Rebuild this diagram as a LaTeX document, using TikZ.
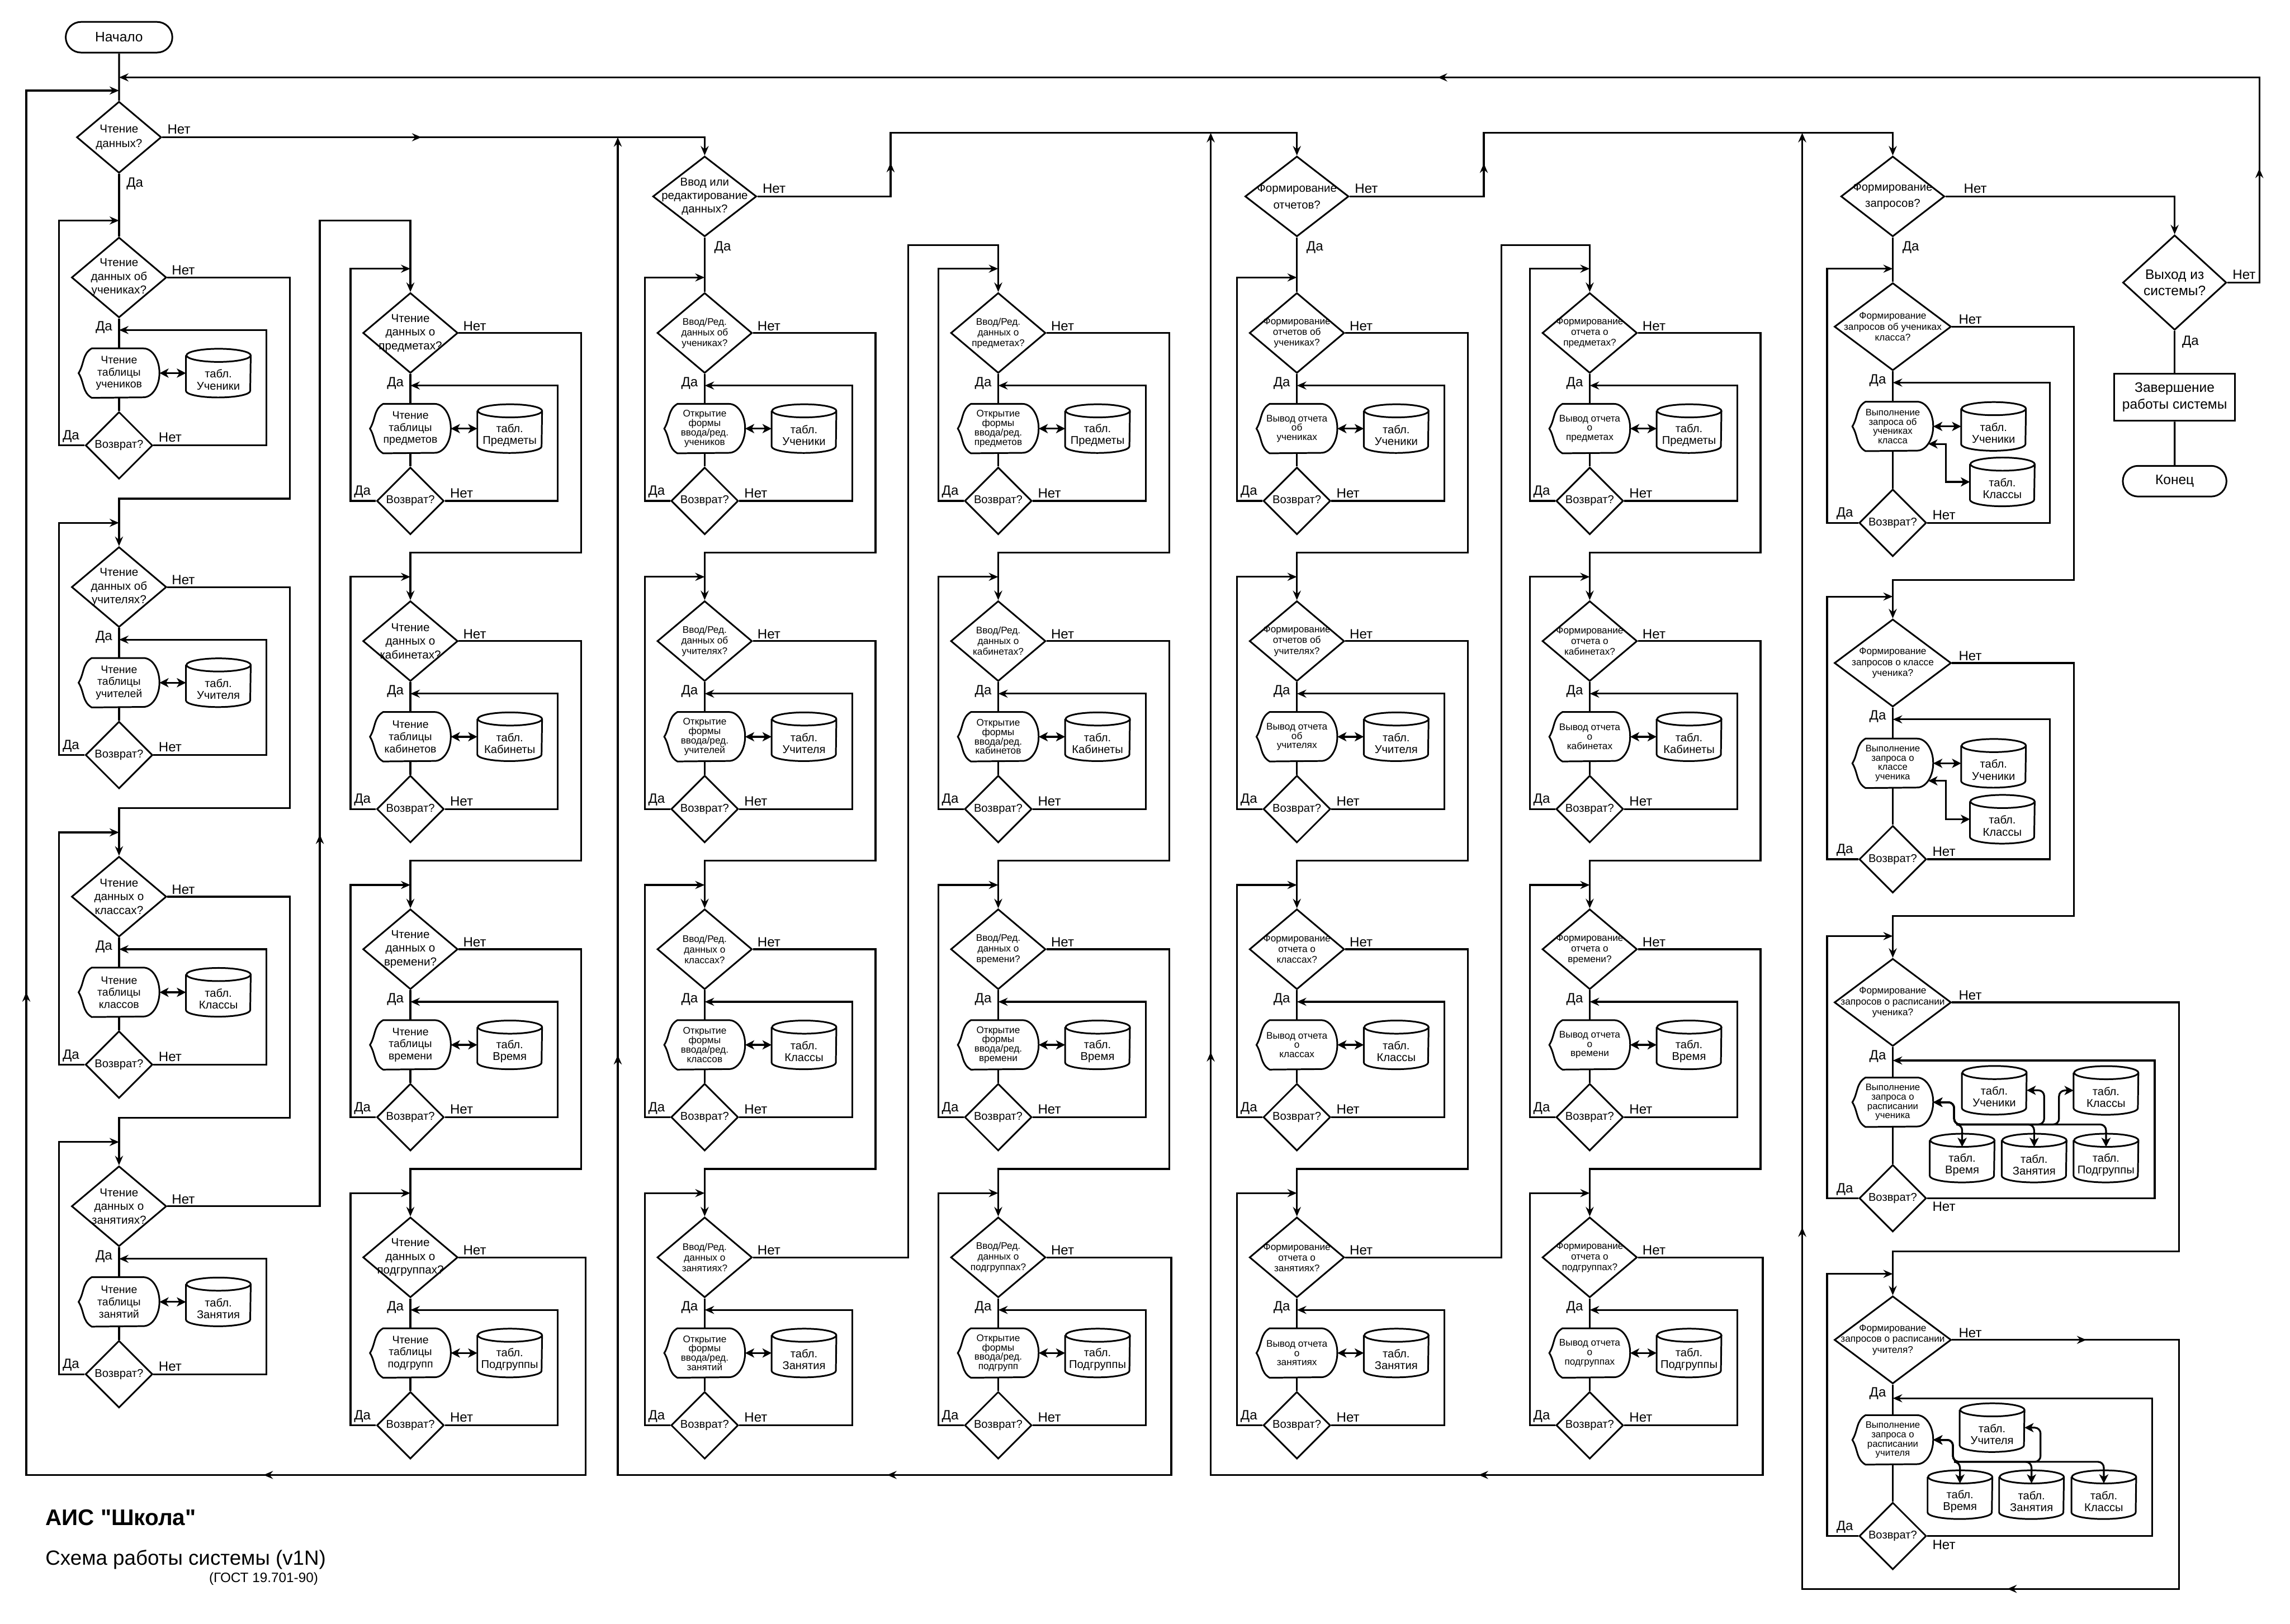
\documentclass[tikz,border=0pt]{standalone}
\usepackage{fontspec}
\setmainfont{Liberation Sans}
\newfontfamily\capfont{Liberation Sans}
\usetikzlibrary{shapes.geometric,shapes.misc,arrows.meta,calc,decorations.markings}

\newlength{\px}
\setlength{\px}{0.4mm}
\newcommand{\setfs}[2]{\fontsize{#1}{#2}\selectfont}

\tikzset{
  conn/.style={line width=1.4pt},
  arr/.style={conn, -{Stealth[length=2.6mm,width=2.2mm,inset=0.9mm]}},
  dbl/.style={conn, {Stealth[length=2.5mm,width=2.5mm,inset=0.7mm]}-{Stealth[length=2.5mm,width=2.5mm,inset=0.7mm]}},
  rc/.style={rounded corners=1.6mm},
  midarr/.style={postaction={decorate, decoration={markings, mark=at position #1 with {\arrow{Stealth[length=2.6mm,width=2.2mm,inset=0.9mm]}}}}},
  outl/.style={draw, line width=1.3pt},
  shp/.style={outl, fill=white},
  term/.style={shp, rounded rectangle, minimum width=73*\px, minimum height=21*\px, inner sep=0pt, font=\setfs{10.7}{12.8}},
  ask/.style={shp, diamond, minimum width=65*\px, minimum height=55*\px, inner sep=0pt},
  askG/.style={minimum width=80*\px, minimum height=60*\px},
  asktop/.style={minimum width=71*\px, minimum height=55*\px},
  ret/.style={shp, diamond, minimum width=46*\px, minimum height=46*\px, inner sep=0pt, label={[rettext]center:Возврат?}},
  rettext/.style={inner sep=0pt, font=\setfs{8.8}{10}},
  toptext/.style={align=center, inner sep=0pt, font=\setfs{8.9}{12.8}},
  asktext/.style={align=center, inner sep=0pt, font=\setfs{9}{10.7}},
  proctext/.style={font=\setfs{8.5}{9.4}},
  tbltext/.style={align=center, inner sep=0pt, yshift=-1.8mm, font=\setfs{8.8}{9.2}},
  lbl/.style={inner sep=0.5pt, font=\setfs{10.5}{12}},
  proc/.style={minimum width=55*\px, minimum height=33.5*\px, inner sep=0pt, align=center,
    append after command={\pgfextra{\draw[outl] ([xshift=9*\px]\tikzlastnode.north west)
      -- ([xshift=-11*\px]\tikzlastnode.north east)
      arc[start angle=90, end angle=-90, x radius=11*\px, y radius=16.75*\px]
      -- ([xshift=9*\px]\tikzlastnode.south west) to[out=150, in=-58] (\tikzlastnode.west)
      to[out=58, in=210] ([xshift=9*\px]\tikzlastnode.north west) -- cycle;}}},
  tbl/.style={minimum width=44*\px, minimum height=33*\px, inner sep=0pt,
    append after command={\pgfextra{\draw[outl] ([yshift=-4.5*\px]\tikzlastnode.north west)
      -- ([yshift=4.5*\px]\tikzlastnode.south west)
      arc[start angle=180, end angle=360, x radius=22*\px, y radius=4.5*\px]
      -- ([yshift=-4.5*\px]\tikzlastnode.north east)
      arc[start angle=0, end angle=360, x radius=22*\px, y radius=4.5*\px];}}}
}

% one block: question, action with its table, and the return question
\newcommand{\subblk}[7]{%
  \node[ask, label={[asktext]center:{#5}}] (q#1) at (#2,-#3) {};
  \node[proc, proctext] (p#1) at (#2,-#3-65.5) {#6};
  \node[tbl, label={[tbltext]center:{табл.\\#7}}] (t#1) at (#2+68,-#3-65.5) {};
  \node[ret] (r#1) at (#2,-#3-115) {};
  \coordinate (in#1) at (#2,-#3+#4);
  \coordinate (rp#1) at (#2,-#3-36);
  \draw[conn] (q#1) -- (p#1);
  \draw[conn] (p#1) -- (r#1);
  \draw[dbl] (p#1) -- (t#1);
  \draw[arr] (r#1.west) -| ($(in#1)+(-41,0)$) -- (in#1);
  \draw[arr] (r#1.east) -| ($(rp#1)+(101,0)$) -- (rp#1);
  \node[lbl, anchor=north east] (yq#1) at ($(q#1.south)+(-4,-1.5)$) {Да};
  \node[lbl, anchor=south west] (nq#1) at ($(q#1.east)+(2.5,1)$) {Нет};
  \node[lbl, anchor=south east] (yr#1) at ($(r#1.west)+(-3,1.5)$) {Да};
  \node[lbl, anchor=south west] (nr#1) at ($(r#1.east)+(3,1.5)$) {Нет};
}

\begin{document}
\begin{tikzpicture}[x=0.4mm, y=0.4mm]
  \useasboundingbox (0,0) rectangle (1568,-1112);

  % main questions
  \node[term] (start) at (81.5,-25.5) {Начало};
  \node[ask, minimum width=58*\px, minimum height=49*\px, label={[toptext, font=\setfs{9}{11.4}]center:{Чтение\\данных?}}] (read) at (81.5,-94) {};
  \node[ask, asktop, label={[toptext, font=\setfs{8.9}{10.6}]center:{Ввод или\\редактирование\\данных?}}] (edit) at (482.5,-134.5) {};
  \node[ask, asktop, label={[toptext]center:{Формирование\\отчетов?}}] (rep) at (888,-134.5) {};
  \node[ask, asktop, label={[toptext]center:{Формирование\\запросов?}}] (qry) at (1296,-134.5) {};
  \node[ask, minimum width=71*\px, minimum height=65*\px, label={[toptext, font=\setfs{10.7}{12.7}]center:{Выход из\\системы?}}] (quit) at (1489,-193.5) {};
  \node[shp, minimum width=82.5*\px, minimum height=32.5*\px, align=center, font=\setfs{10.7}{12.9}] (stop) at (1489,-272) {Завершение\\работы системы};
  \node[term, minimum width=71*\px] (fin) at (1489,-329.5) {Конец};

  \coordinate (jTop) at (81.5,-53);
  \coordinate (jA) at (81.5,-62);
  \coordinate (jC) at (423,-94);
  \coordinate (jE) at (829,-91);
  \coordinate (jG) at (1234,-91);

  \draw[conn] (start) -- (read);
  \draw[arr, midarr=71mm] (read.east) -| (edit.north);
  \draw[arr, midarr=45.7mm] (edit.east) -| (609.8,-91) -| (rep.north);
  \draw[arr, midarr=45.8mm] (rep.east) -| (1016,-91) -| (qry.north);
  \draw[arr] (qry.east) -| (quit.north);
  \draw[arr, midarr=40mm, midarr=290mm] (quit.east) -| (1547,-53) -- (jTop);
  \draw[conn] (quit) -- (stop);
  \draw[conn] (stop) -- (fin);

  \node[lbl, anchor=south west] (nread) at ($(read.east)+(3,1.5)$) {Нет};
  \node[lbl, anchor=north west] (yread) at ($(read.south)+(4.5,-2)$) {Да};
  \node[lbl, anchor=south west] (nedit) at ($(edit.east)+(3,1.5)$) {Нет};
  \node[lbl, anchor=north west] (yedit) at ($(edit.south)+(6,-2)$) {Да};
  \node[lbl, anchor=south west] (nrep) at ($(rep.east)+(3,1.5)$) {Нет};
  \node[lbl, anchor=north west] (yrep) at ($(rep.south)+(6,-2)$) {Да};
  \node[lbl, anchor=south west] (nqry) at ($(qry.east)+(12,1.5)$) {Нет};
  \node[lbl, anchor=north west] (yqry) at ($(qry.south)+(6,-2)$) {Да};
  \node[lbl, anchor=south west] (nquit) at ($(quit.east)+(3,1.5)$) {Нет};
  \node[lbl, anchor=north west] (yquit) at ($(quit.south)+(4.5,-3)$) {Да};

  % reading
  \subblk{A1}{81.5}{190}{39}{Чтение\\данных об\\учениках?}{Чтение\\таблицы\\учеников}{Ученики}
  \subblk{A2}{81.5}{402}{44}{Чтение\\данных об\\учителях?}{Чтение\\таблицы\\учителей}{Учителя}
  \subblk{A3}{81.5}{614}{44}{Чтение\\данных о\\классах?}{Чтение\\таблицы\\классов}{Классы}
  \subblk{A4}{81.5}{826}{44}{Чтение\\данных о\\занятиях?}{Чтение\\таблицы\\занятий}{Занятия}
  \subblk{B1}{281}{228}{44}{Чтение\\данных о\\предметах?}{Чтение\\таблицы\\предметов}{Предметы}
  \subblk{B2}{281}{439}{44}{Чтение\\данных о\\кабинетах?}{Чтение\\таблицы\\кабинетов}{Кабинеты}
  \subblk{B3}{281}{650}{44}{Чтение\\данных о\\времени?}{Чтение\\таблицы\\времени}{Время}
  \subblk{B4}{281}{861}{44}{Чтение\\данных о\\подгруппах?}{Чтение\\таблицы\\подгрупп}{Подгруппы}

  % input and editing
  \tikzset{asktext/.style={align=center, inner sep=0pt, font=\setfs{7.5}{8.3}},
    proctext/.style={font=\setfs{7.5}{7.3}}}
  \subblk{C1}{482.5}{228}{38}{Ввод/Ред.\\данных об\\учениках?}{Открытие\\формы\\ввода/ред.\\учеников}{Ученики}
  \subblk{C2}{482.5}{439}{44}{Ввод/Ред.\\данных об\\учителях?}{Открытие\\формы\\ввода/ред.\\учителей}{Учителя}
  \subblk{C3}{482.5}{650}{44}{Ввод/Ред.\\данных о\\классах?}{Открытие\\формы\\ввода/ред.\\классов}{Классы}
  \subblk{C4}{482.5}{861}{44}{Ввод/Ред.\\данных о\\занятиях?}{Открытие\\формы\\ввода/ред.\\занятий}{Занятия}
  \subblk{D1}{683.5}{228}{44}{Ввод/Ред.\\данных о\\предметах?}{Открытие\\формы\\ввода/ред.\\предметов}{Предметы}
  \subblk{D2}{683.5}{439}{44}{Ввод/Ред.\\данных о\\кабинетах?}{Открытие\\формы\\ввода/ред.\\кабинетов}{Кабинеты}
  \subblk{D3}{683.5}{650}{44}{Ввод/Ред.\\данных о\\времени?}{Открытие\\формы\\ввода/ред.\\времени}{Время}
  \subblk{D4}{683.5}{861}{44}{Ввод/Ред.\\данных о\\подгруппах?}{Открытие\\формы\\ввода/ред.\\подгрупп}{Подгруппы}

  % reports
  \subblk{E1}{888}{228}{38}{Формирование\\отчетов об\\учениках?}{Вывод отчета\\об\\учениках}{Ученики}
  \subblk{E2}{888}{439}{44}{Формирование\\отчетов об\\учителях?}{Вывод отчета\\об\\учителях}{Учителя}
  \subblk{E3}{888}{650}{44}{Формирование\\отчета о\\классах?}{Вывод отчета\\о\\классах}{Классы}
  \subblk{E4}{888}{861}{44}{Формирование\\отчета о\\занятиях?}{Вывод отчета\\о\\занятиях}{Занятия}
  \subblk{F1}{1088.5}{228}{44}{Формирование\\отчета о\\предметах?}{Вывод отчета\\о\\предметах}{Предметы}
  \subblk{F2}{1088.5}{439}{44}{Формирование\\отчета о\\кабинетах?}{Вывод отчета\\о\\кабинетах}{Кабинеты}
  \subblk{F3}{1088.5}{650}{44}{Формирование\\отчета о\\времени?}{Вывод отчета\\о\\времени}{Время}
  \subblk{F4}{1088.5}{861}{44}{Формирование\\отчета о\\подгруппах?}{Вывод отчета\\о\\подгруппах}{Подгруппы}

  \draw[conn] (read) -- (qA1);
  \draw[conn] (edit) -- (qC1);
  \draw[conn] (rep) -- (qE1);

  % "no" goes on to the next question of the column
  \foreach \a/\b in {A1/A2,A2/A3,A3/A4,B1/B2,B2/B3,B3/B4,C1/C2,C2/C3,C3/C4,
                     D1/D2,D2/D3,D3/D4,E1/E2,E2/E3,E3/E4,F1/F2,F2/F3,F3/F4}
    \draw[arr] (q\a.east) -| ($(q\b.north)+(117,32.5)$) -| (q\b.north);

  \draw[arr, midarr=143.6mm] (qA4.east) -| (219,-151) -| (qB1.north);
  \draw[arr, midarr=182.6mm, midarr=379.8mm] (qB4.east) -| (401,-1010) -| (18,-62) -- (jA);
  \draw[arr] (qC4.east) -| (622,-168) -| (qD1.north);
  \draw[arr, midarr=171.6mm, midarr=360.4mm] (qD4.east) -| (802,-1010) -| (jC);
  \draw[arr] (qE4.east) -| (1028,-168) -| (qF1.north);
  \draw[arr, midarr=171.6mm, midarr=360.8mm] (qF4.east) -| (1207,-1010) -| (jE);

  % queries
  \tikzset{asktext/.style={align=center, inner sep=0pt, font=\setfs{7.5}{8.5}},
    proctext/.style={font=\setfs{7.3}{7.3}}}
  \node[ask, askG, label={[asktext]center:{Формирование\\запросов об учениках\\класса?}}] (qG1) at (1296,-223.7) {};
  \node[proc, proctext] (pG1) at (1296,-292) {Выполнение\\запроса об\\учениках\\класса};
  \node[tbl, label={[tbltext]center:{табл.\\Ученики}}] (tG1u) at (1365,-292) {};
  \node[tbl, label={[tbltext]center:{табл.\\Классы}}] (tG1k) at (1371,-330) {};
  \node[ret] (rG1) at (1296,-358) {};
  \coordinate (inG1) at (1296,-184);
  \coordinate (rpG1) at (1296,-262);
  \draw[conn] (qry) -- (qG1);
  \draw[conn] (qG1) -- (pG1);
  \draw[conn] (pG1) -- (rG1);
  \draw[dbl] (pG1) -- (tG1u);
  \draw[dbl] ($(pG1.east)+(-3.3,-12)$) -| ($(tG1k.west)+(-16.5,0)$) -- (tG1k.west);
  \draw[arr] (rG1.west) -| ($(inG1)+(-45,0)$) -- (inG1);
  \draw[arr] (rG1.east) -| ($(rpG1)+(107.5,0)$) -- (rpG1);

  \node[ask, askG, label={[asktext]center:{Формирование\\запросов о классе\\ученика?}}] (qG2) at (1296,-454) {};
  \node[proc, proctext] (pG2) at (1296,-522.7) {Выполнение\\запроса о\\классе\\ученика};
  \node[tbl, label={[tbltext]center:{табл.\\Ученики}}] (tG2u) at (1365,-522.7) {};
  \node[tbl, label={[tbltext]center:{табл.\\Классы}}] (tG2k) at (1371,-561) {};
  \node[ret] (rG2) at (1296,-588.4) {};
  \coordinate (inG2) at (1296,-408.5);
  \coordinate (rpG2) at (1296,-492.6);
  \draw[conn] (qG2) -- (pG2);
  \draw[conn] (pG2) -- (rG2);
  \draw[dbl] (pG2) -- (tG2u);
  \draw[dbl] ($(pG2.east)+(-3.3,-12)$) -| ($(tG2k.west)+(-16.5,0)$) -- (tG2k.west);
  \draw[arr] (rG2.west) -| ($(inG2)+(-45,0)$) -- (inG2);
  \draw[arr] (rG2.east) -| ($(rpG2)+(107.5,0)$) -- (rpG2);

  \node[ask, askG, label={[asktext]center:{Формирование\\запросов о расписании\\ученика?}}] (qG3) at (1296,-686.4) {};
  \node[proc, proctext] (pG3) at (1296,-754.8) {Выполнение\\запроса о\\расписании\\ученика};
  \node[tbl, label={[tbltext]center:{табл.\\Ученики}}] (tG3u) at (1365.5,-746.6) {};
  \node[tbl, label={[tbltext]center:{табл.\\Классы}}] (tG3k) at (1442,-746.7) {};
  \node[tbl, label={[tbltext]center:{табл.\\Время}}] (tG3v) at (1343.5,-793) {};
  \node[tbl, label={[tbltext]center:{табл.\\Занятия}}] (tG3z) at (1392.8,-793) {};
  \node[tbl, label={[tbltext]center:{табл.\\Подгруппы}}] (tG3p) at (1442,-793) {};
  \node[ret] (rG3) at (1296,-820.5) {};
  \coordinate (inG3) at (1296,-641);
  \coordinate (rpG3) at (1296,-726.2);
  \coordinate (busG3) at (1338,-770);
  \draw[conn] (qG3) -- (pG3);
  \draw[conn] (pG3) -- (rG3);
  \draw[dbl, rc] (pG3.east) -| (busG3) -| ($(tG3v.north)+(0,-9)$);
  \draw[dbl, rc] (pG3.east) -| (busG3) -| ($(tG3z.north)+(0,-9)$);
  \draw[dbl, rc] (pG3.east) -| (busG3) -| ($(tG3p.north)+(0,-9)$);
  \draw[dbl, rc] (pG3.east) -| (busG3) -| ($(tG3u.east)+(12,0)$) -- (tG3u.east);
  \draw[dbl, rc] (pG3.east) -| (busG3) -| ($(tG3k.west)+(-10,0)$) -- (tG3k.west);
  \draw[arr] (rG3.west) -| ($(inG3)+(-45,0)$) -- (inG3);
  \draw[arr] (rG3.east) -| ($(rpG3)+(179.3,0)$) -- (rpG3);

  \node[ask, askG, label={[asktext]center:{Формирование\\запросов о расписании\\учителя?}}] (qG4) at (1296,-917.5) {};
  \node[proc, proctext] (pG4) at (1296,-986) {Выполнение\\запроса о\\расписании\\учителя};
  \node[tbl, label={[tbltext]center:{табл.\\Учителя}}] (tG4u) at (1364,-977.6) {};
  \node[tbl, label={[tbltext]center:{табл.\\Время}}] (tG4v) at (1342,-1023.5) {};
  \node[tbl, label={[tbltext]center:{табл.\\Занятия}}] (tG4z) at (1391,-1023.5) {};
  \node[tbl, label={[tbltext]center:{табл.\\Классы}}] (tG4k) at (1440.5,-1023.5) {};
  \node[ret] (rG4) at (1296,-1051.8) {};
  \coordinate (inG4) at (1296,-872.3);
  \coordinate (rpG4) at (1296,-957.5);
  \coordinate (busG4) at (1337.2,-1001);
  \draw[conn] (qG4) -- (pG4);
  \draw[conn] (pG4) -- (rG4);
  \draw[dbl, rc] (pG4.east) -| (busG4) -| ($(tG4v.north)+(0,-9)$);
  \draw[dbl, rc] (pG4.east) -| (busG4) -| ($(tG4z.north)+(0,-9)$);
  \draw[dbl, rc] (pG4.east) -| (busG4) -| ($(tG4k.north)+(0,-9)$);
  \draw[dbl, rc] (pG4.east) -| (busG4) -| ($(tG4u.east)+(11,0)$) -- (tG4u.east);
  \draw[arr] (rG4.west) -| ($(inG4)+(-45,0)$) -- (inG4);
  \draw[arr] (rG4.east) -| ($(rpG4)+(177.5,0)$) -- (rpG4);

  \draw[arr] (qG1.east) -| ($(qG2.north)+(124,26.2)$) -| (qG2.north);
  \draw[arr] (qG2.east) -| ($(qG3.north)+(124,28.6)$) -| (qG3.north);
  \draw[arr] (qG3.east) -| ($(qG4.north)+(196,29.9)$) -| (qG4.north);
  \draw[arr, midarr=36.8mm, midarr=177.4mm, midarr=332.6mm] (qG4.east) -| (1492,-1088) -| (jG);

  \foreach \g in {G1,G2,G3,G4} {
    \node[lbl, anchor=north east] (yq\g) at ($(q\g.south)+(-4,-1.5)$) {Да};
    \node[lbl, anchor=south west] (nq\g) at ($(q\g.east)+(4,1)$) {Нет};
    \node[lbl, anchor=south east] (yr\g) at ($(r\g.west)+(-3,1.5)$) {Да};
  }
  \node[lbl, anchor=south west] (nrG1) at ($(rG1.east)+(3,1.5)$) {Нет};
  \node[lbl, anchor=south west] (nrG2) at ($(rG2.east)+(3,1.5)$) {Нет};
  \node[lbl, anchor=north west] (nrG3) at ($(rG3.east)+(3,-2)$) {Нет};
  \node[lbl, anchor=north west] (nrG4) at ($(rG4.east)+(3,-2)$) {Нет};

  % caption
  \node[anchor=west, inner sep=0pt, font=\capfont\bfseries\setfs{17.6}{20}] (title) at (31,-1039) {АИС "Школа"};
  \node[anchor=west, inner sep=0pt, font=\setfs{16}{18}] (subtitle) at (31,-1068) {Схема работы системы (v1N)};
  \node[anchor=east, inner sep=0pt, font=\setfs{10.6}{12}] (gost) at (218,-1081) {(ГОСТ 19.701-90)};
\end{tikzpicture}
\end{document}
